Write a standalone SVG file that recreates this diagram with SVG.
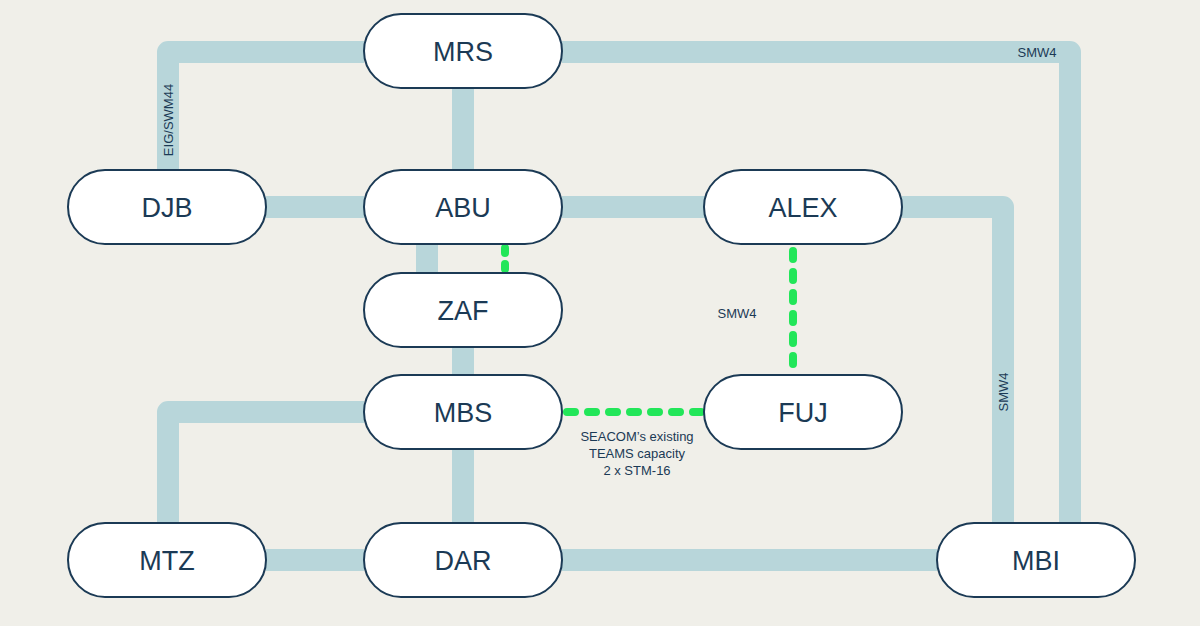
<svg xmlns="http://www.w3.org/2000/svg" width="1200" height="626" viewBox="0 0 1200 626">
<style>
.bg{fill:#f0efe9}
.link{fill:none;stroke:#b8d6da;stroke-width:22;stroke-linejoin:round}
.dash{fill:none;stroke:#22e659;stroke-width:8;stroke-linecap:round;stroke-dasharray:8 13}
.node rect{fill:#ffffff;stroke:#1b3a55;stroke-width:2}
.node text{font-family:"Liberation Sans",Arial,sans-serif;font-size:27px;fill:#1b3a55;text-anchor:middle}
.lbl{font-family:"Liberation Sans",Arial,sans-serif;font-size:13px;fill:#1b3a55;text-anchor:middle}
</style>
<rect class="bg" x="0" y="0" width="1200" height="626"/>
<g id="connectors">
<path class="link" d="M364 52 H168 V170"/>
<path class="link" d="M463 88 V170"/>
<path class="link" d="M562 52 H1070 V523"/>
<path class="link" d="M266 207 H364"/>
<path class="link" d="M562 207 H705"/>
<path class="link" d="M902 207 H1003 V523"/>
<path class="link" d="M427 244 V273"/>
<path class="link" d="M463 347 V376"/>
<path class="link" d="M364 412 H168 V523"/>
<path class="link" d="M463 449 V523"/>
<path class="link" d="M266 560 H364"/>
<path class="link" d="M562 560 H937"/>
<path class="dash" style="stroke-dasharray:none" d="M505 248 V253 M505 264 V269"/>
<path class="dash" d="M793 251 V372"/>
<path class="dash" d="M567 412 H702"/>
<text class="lbl" transform="translate(173 120) rotate(-90)">EIG/SWM44</text>
<text class="lbl" x="1037" y="57">SMW4</text>
<text class="lbl" transform="translate(1008 392) rotate(-90)">SMW4</text>
<text class="lbl" x="737" y="318">SMW4</text>
<text class="lbl" x="637" y="441">SEACOM’s existing</text>
<text class="lbl" x="637" y="458">TEAMS capacity</text>
<text class="lbl" x="637" y="475">2 x STM-16</text>
</g>
<g id="MRS" class="node"><rect x="364" y="14" width="198" height="74" rx="37"/><text x="463" y="61">MRS</text></g>
<g id="DJB" class="node"><rect x="68" y="170" width="198" height="74" rx="37"/><text x="167" y="217">DJB</text></g>
<g id="ABU" class="node"><rect x="364" y="170" width="198" height="74" rx="37"/><text x="463" y="217">ABU</text></g>
<g id="ALEX" class="node"><rect x="704" y="170" width="198" height="74" rx="37"/><text x="803" y="217">ALEX</text></g>
<g id="ZAF" class="node"><rect x="364" y="273" width="198" height="74" rx="37"/><text x="463" y="320">ZAF</text></g>
<g id="MBS" class="node"><rect x="364" y="375" width="198" height="74" rx="37"/><text x="463" y="422">MBS</text></g>
<g id="FUJ" class="node"><rect x="704" y="375" width="198" height="74" rx="37"/><text x="803" y="422">FUJ</text></g>
<g id="MTZ" class="node"><rect x="68" y="523" width="198" height="74" rx="37"/><text x="167" y="570">MTZ</text></g>
<g id="DAR" class="node"><rect x="364" y="523" width="198" height="74" rx="37"/><text x="463" y="570">DAR</text></g>
<g id="MBI" class="node"><rect x="937" y="523" width="198" height="74" rx="37"/><text x="1036" y="570">MBI</text></g>
</svg>
